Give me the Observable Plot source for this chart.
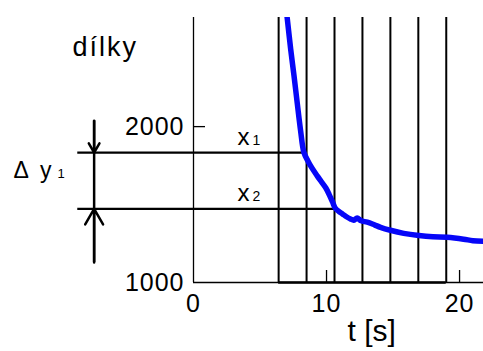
<!DOCTYPE html>
<html>
<head>
<meta charset="utf-8">
<script src="https://cdn.jsdelivr.net/npm/d3@7"></script>
<script src="https://cdn.jsdelivr.net/npm/@observablehq/plot@0.6"></script>
<style>
  html, body { margin: 0; padding: 0; background: #fff; }
  #chart svg { display: block; }
  .ls3 text { letter-spacing: 3px; }
  .ls2 text { letter-spacing: 2px; }
  .ls1 text { letter-spacing: 1px; }
</style>
</head>
<body>
<div id="chart"></div>
<script>
// ---- data ----
const xTicks = [0, 10, 20];
const yTicks = [1000, 2000];
const innerXTicks = [10, 20];
const innerYTicks = [2000];
const gateT = [6.4, 8.5, 10.6, 12.7, 14.8, 16.9, 19.0];
const curveT = [6.95, 7.04, 7.3, 7.55, 7.8, 8.05, 8.3, 8.6, 8.9, 9.3, 9.6, 9.95, 10.2, 10.45, 10.65, 10.9, 11.2, 11.5, 11.8, 12.05, 12.3, 12.6, 13.06, 13.6, 14.06, 14.8, 15.8, 16.94, 18.0, 19.07, 20.3, 21.0, 21.8];
const curveV = [2760, 2700, 2500, 2330, 2150, 1975, 1835, 1780, 1735, 1684, 1648, 1606, 1564, 1517, 1478, 1458, 1440, 1422, 1408, 1400, 1413, 1396, 1387, 1370, 1354, 1335, 1315, 1301, 1293, 1290, 1278, 1268, 1265];
const levelV = [1833, 1472];
const levelEndT = [8.3, 10.65];
const levelStartT = -8.7;
const levelLabels = ["x", "x"];
const levelSubs = ["1", "2"];
const arrowT = -7.47;
const arrowTopV = 2038;
const arrowBottomV = 1128;
const yLabel = "dílky";
const xLabel = "t [s]";
const deltaLabel = "Δ y";
const deltaSub = "1";

// ---- build ----
const curve = curveT.map((t, i) => ({t, v: curveV[i]}));
const levels = levelV.map((v, i) => ({v, end: levelEndT[i], label: levelLabels[i], sub: levelSubs[i]}));
const arrows = [
  {t: arrowT, from: arrowTopV, to: levelV[0]},
  {t: arrowT, from: arrowBottomV, to: levelV[1]}
];

const W = 483, H = 351, ML = 193, MT = 17, MB = 69, MR = 0;
const font = "Liberation Sans, Arial, sans-serif";

const chart = Plot.plot({
  width: W, height: H,
  marginLeft: ML, marginRight: MR, marginTop: MT, marginBottom: MB,
  x: {domain: [0, 21.8], axis: null},
  y: {domain: [1000, 2700], axis: null},
  style: {fontFamily: font, color: "black", background: "white", overflow: "visible"},
  marks: [
    // axis labels
    Plot.axisY({ticks: yTicks, tickFormat: d3.format("d"), tickSize: 0, tickPadding: 9, fontSize: 25, label: null, className: "ls1"}),
    Plot.axisX({ticks: xTicks, tickFormat: d3.format("d"), tickSize: 0, tickPadding: 12, fontSize: 25, label: null, className: "ls1"}),
    // inward ticks
    Plot.tickY(innerYTicks, {y: d => d, insetRight: (W - ML - MR) - 12, strokeWidth: 1.3}),
    Plot.tickX(innerXTicks, {x: d => d, insetTop: (H - MT - MB) - 12, strokeWidth: 1.3}),
    // axis lines
    Plot.ruleX([0], {strokeWidth: 1.3}),
    Plot.ruleY([1000], {strokeWidth: 1.3}),
    // gate lines
    Plot.ruleX(gateT, {x: d => d, strokeWidth: 2}),
    Plot.ruleY([1000], {x1: gateT[0], x2: gateT[gateT.length - 1], strokeWidth: 2.5}),
    // level lines
    Plot.ruleY(levels, {y: "v", x1: levelStartT, x2: "end", strokeWidth: 2.3}),
    // arrows
    Plot.ruleX([arrowT], {x: d => d, y1: arrowBottomV, y2: arrowTopV, strokeWidth: 2.5}),
    Plot.arrow(arrows, {x1: "t", x2: "t", y1: "from", y2: "to", headLength: 17, headAngle: 60, strokeWidth: 2.5, stroke: "black"}),
    // curve
    Plot.line(curve, {x: "t", y: "v", stroke: "#0606f8", strokeWidth: 5.5, curve: "catmull-rom", clip: true}),
    // texts
    Plot.text([yLabel], {frameAnchor: "top-left", text: d => d, textAnchor: "start", lineAnchor: "bottom", dx: 72 - ML, dy: 55 - MT, fontSize: 27, className: "ls2"}),
    Plot.text([deltaLabel], {frameAnchor: "top-left", text: d => d, textAnchor: "start", lineAnchor: "bottom", dx: 13 - ML, dy: 177 - MT, fontSize: 23, className: "ls3"}),
    Plot.text([deltaSub], {frameAnchor: "top-left", text: d => d, textAnchor: "start", lineAnchor: "bottom", dx: 57 - ML, dy: 177 - MT, fontSize: 13}),
    Plot.text(levels, {x: levelStartT, y: "v", text: "label", textAnchor: "start", lineAnchor: "bottom", dx: 237 - 77.3, dy: -8, fontSize: 24}),
    Plot.text(levels, {x: levelStartT, y: "v", text: "sub", textAnchor: "start", lineAnchor: "bottom", dx: 252 - 77.3, dy: -8, fontSize: 14}),
    Plot.text([xLabel], {frameAnchor: "top-left", text: d => d, textAnchor: "start", lineAnchor: "bottom", dx: 347 - ML, dy: 340 - MT, fontSize: 30})
  ]
});
document.getElementById("chart").appendChild(chart);
</script>
</body>
</html>
